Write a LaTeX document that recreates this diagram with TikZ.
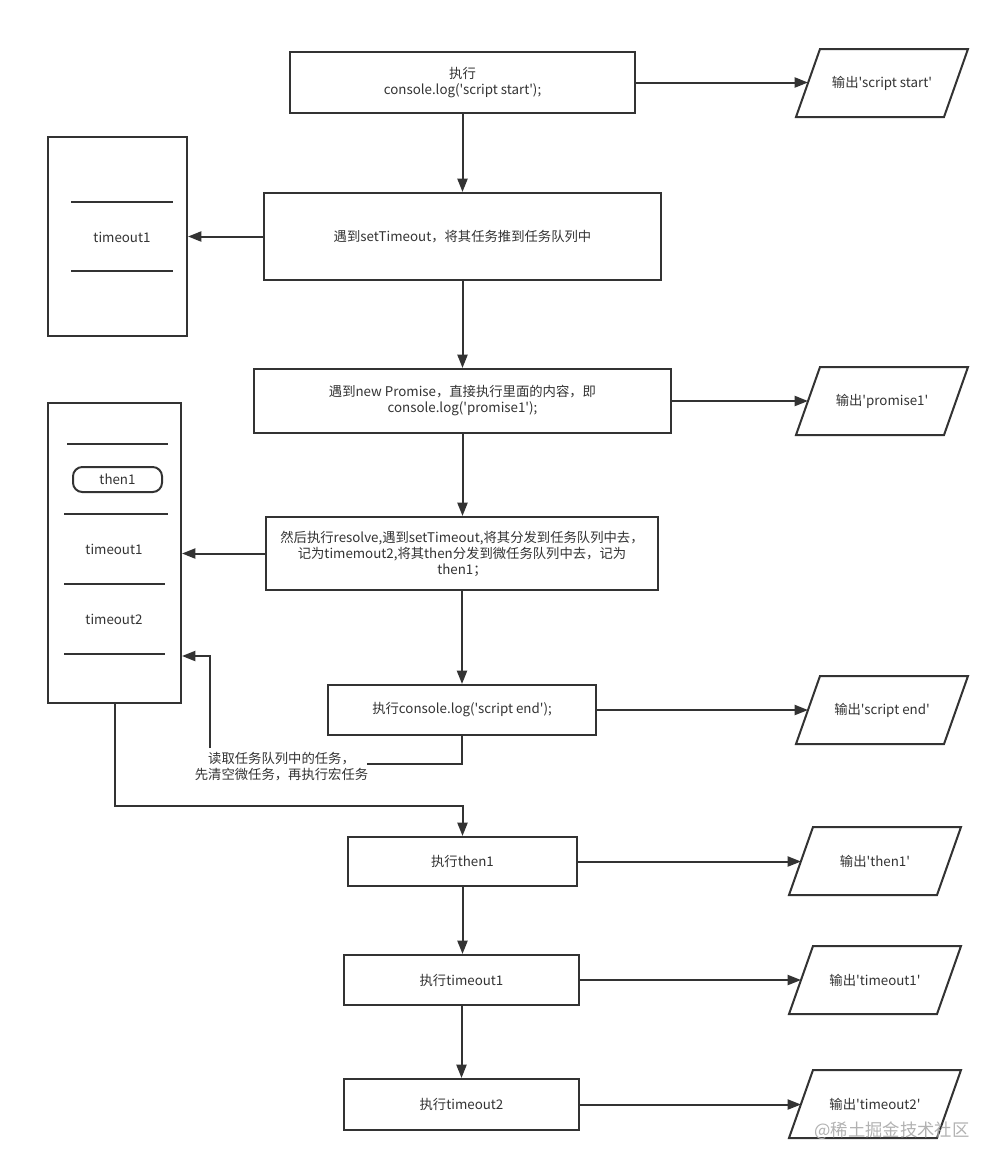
\documentclass[tikz,border=0pt]{standalone}
\usepackage{fontspec}
\setmainfont{Noto Sans CJK SC}[Ligatures=TeXOff]
\usetikzlibrary{arrows.meta,calc}
\definecolor{ink}{HTML}{333333}
\newcommand\myoutbox[4]{%
  \draw[ln] (#2-62,#3-34) -- (#2+86,#3-34) -- (#2+62,#3+34) -- (#2-86,#3+34) -- cycle;
  \node (#1) at (#2,#3) {#4};
  \coordinate (#1w) at (#2-74,#3);}
\newcommand\mybox[7][box]{%
  \node[#1, minimum width={(#5-#3)*0.75pt}, minimum height={(#6-#4)*0.75pt}]
    (#2) at ({(#3+#5)/2},{(#4+#6)/2}) {#7};}
\begin{document}
\begin{tikzpicture}[x=0.75pt,y=-0.75pt,
  every node/.style={font=\fontsize{10pt}{12pt}\selectfont, text=ink},
  ln/.style={draw=ink, line width=1.5pt},
  box/.style={draw=ink, line width=1.5pt, inner sep=0pt, align=center},
  pill/.style={draw=ink, line width=1.5pt, inner sep=0pt, rounded corners=7pt},
  arr/.style={draw=ink, line width=1.5pt, -{Triangle[length=10pt,width=7.5pt]}}]
\useasboundingbox (0,0) rectangle (1001,1171);
\fill[white] (0,0) rectangle (1001,1171);

% main boxes
\mybox{b1}{290}{52}{635}{113}{执行\\console.log('script start');}
\mybox{b2}{264}{193}{661}{280}{遇到setTimeout，将其任务推到任务队列中}
\mybox{b3}{254}{369}{671}{433}{遇到new Promise，直接执行里面的内容，即\\console.log('promise1');}
\mybox{b4}{266}{517}{658}{590}{然后执行resolve,遇到setTimeout,将其分发到任务队列中去，\\记为timemout2,将其then分发到微任务队列中去，记为\\then1；}
\mybox{b5}{328}{685}{596}{735}{执行console.log('script end');}
\mybox{b6}{348}{837}{577}{886}{执行then1}
\mybox{b7}{344}{955}{579}{1005}{执行timeout1}
\mybox{b8}{344}{1079}{579}{1130}{执行timeout2}

% queue 1
\mybox{q1}{48}{137}{187}{336}{}
\draw[ln] (71,202) -- (173,202);
\draw[ln] (71,271) -- (173,271);
\node (q1t) at (122,237) {timeout1};

% queue 2
\mybox{q2}{48}{403}{181}{703}{}
\draw[ln] (67,444) -- (168,444);
\mybox[pill]{p1}{73}{467}{162}{492}{then1}
\draw[ln] (64,514) -- (168,514);
\node (q2t1) at (114,549) {timeout1};
\draw[ln] (64,584) -- (165,584);
\node (q2t2) at (114,619) {timeout2};
\draw[ln] (64,654) -- (165,654);

% outputs
\myoutbox{o1}{882}{83}{输出'script start'}
\myoutbox{o2}{882}{401}{输出'promise1'}
\myoutbox{o3}{882}{710}{输出'script end'}
\myoutbox{o4}{875}{861}{输出'then1'}
\myoutbox{o5}{875}{980}{输出'timeout1'}
\myoutbox{o6}{875}{1104}{输出'timeout2'}

% vertical flow
\draw[arr] (b1.south) -- (b1.south |- b2.north);
\draw[arr] (b2.south) -- (b2.south |- b3.north);
\draw[arr] (b3.south) -- (b3.south |- b4.north);
\draw[arr] (b4.south) -- (b4.south |- b5.north);
\draw[arr] (b6.south) -- (b6.south |- b7.north);
\draw[arr] (b7.south) -- (b7.south |- b8.north);

% to queues
\draw[arr] (b2.west) -- (b2.west -| q1.east);
\draw[arr] (b4.west) -- (b4.west -| q2.east);

% to outputs
\draw[arr] (b1.east) -- (b1.east -| o1w);
\draw[arr] (b3.east) -- (b3.east -| o2w);
\draw[arr] (b5.east) -- (b5.east -| o3w);
\draw[arr] (b6.east) -- (b6.east -| o4w);
\draw[arr] (b7.east) -- (b7.east -| o5w);
\draw[arr] (b8.east) -- (b8.east -| o6w);

% feedback loop
\node[align=center] (fb) at (281.5,766.5) {读取任务队列中的任务，\\先清空微任务，再执行宏任务};
\coordinate (fbin) at (367,764);
\coordinate (fbout) at (210,748);
\coordinate (fbup) at (210,656);
\draw[ln] (b5.south) |- (fbin);
\draw[arr] (fbout) -- (fbup) -- (fbup -| q2.east);

% queue to then1
\coordinate (loop) at (462.5,806);
\draw[arr] (q2.south) |- (loop) -- (b6.north);

% watermark
\node[font=\fontsize{13pt}{15pt}\selectfont, text=black!30] (wm) at (892,1131) {@稀土掘金技术社区};
\end{tikzpicture}
\end{document}
